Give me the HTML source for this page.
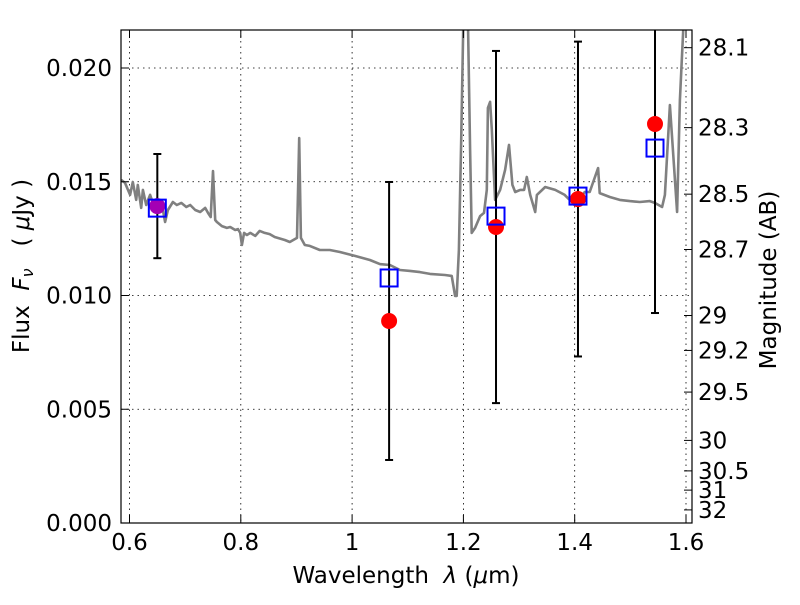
<!DOCTYPE html>
<html><head><meta charset="utf-8"><style>
body{margin:0;background:#fff}
svg{font-family:"DejaVu Sans","Liberation Sans",sans-serif}
</style></head><body>
<svg id="chart" width="800" height="600" viewBox="0 0 800 600" xmlns="http://www.w3.org/2000/svg">
<rect width="800" height="600" fill="#fff"/>
<defs><clipPath id="clip"><rect x="121" y="30" width="571" height="493"/></clipPath></defs>
<g id="grid"></g>
<g id="plot" clip-path="url(#clip)"></g>
<rect x="121" y="30" width="571" height="493" fill="none" stroke="#000" stroke-width="1.2"/>
<g id="axes"></g>
<text x="406" y="583" font-size="23" text-anchor="middle" xml:space="preserve">Wavelength  <tspan font-style="italic">λ</tspan> (<tspan font-style="italic">μ</tspan>m)</text>
<text transform="translate(29,266) rotate(-90)" font-size="23" text-anchor="middle" xml:space="preserve">Flux  <tspan font-style="italic">F</tspan><tspan font-style="italic" font-size="16" dy="4">ν</tspan><tspan dy="-4">   ( </tspan><tspan font-style="italic">μ</tspan>Jy )</text>
<text transform="translate(776,280) rotate(-90)" font-size="23" text-anchor="middle">Magnitude (AB)</text>
</svg>
<script>
const specWl=[0.585,0.592,0.601,0.606,0.612,0.615,0.621,0.624,0.630,0.637,0.642,0.649,0.660,0.664,0.669,0.678,0.685,0.693,0.702,0.709,0.718,0.727,0.736,0.741,0.746,0.750,0.754,0.757,0.766,0.775,0.781,0.790,0.795,0.799,0.802,0.806,0.811,0.817,0.826,0.834,0.843,0.852,0.861,0.879,0.888,0.901,0.905,0.908,0.915,0.924,0.942,0.960,0.978,1.005,1.032,1.050,1.068,1.086,1.104,1.122,1.140,1.167,1.179,1.185,1.188,1.192,1.196,1.200,1.208,1.212,1.215,1.221,1.230,1.237,1.242,1.244,1.248,1.251,1.257,1.266,1.275,1.282,1.288,1.293,1.302,1.309,1.314,1.320,1.329,1.332,1.347,1.365,1.382,1.391,1.406,1.418,1.427,1.442,1.445,1.463,1.481,1.499,1.517,1.535,1.544,1.557,1.562,1.571,1.584,1.589,1.596];
const specFlux=[0.01508,0.01495,0.01442,0.01499,0.01420,0.01486,0.01385,0.01464,0.01398,0.01442,0.01407,0.01424,0.01376,0.01323,0.01376,0.01411,0.01398,0.01407,0.01389,0.01398,0.01376,0.01367,0.01385,0.01363,0.01345,0.01547,0.01332,0.01323,0.01305,0.01297,0.01301,0.01288,0.01292,0.01275,0.01222,0.01275,0.01266,0.01275,0.01262,0.01284,0.01275,0.01270,0.01257,0.01244,0.01235,0.01253,0.01692,0.01253,0.01222,0.01218,0.01200,0.01200,0.01191,0.01174,0.01156,0.01138,0.01134,0.01112,0.01108,0.01103,0.01095,0.01090,0.01086,0.00998,0.00998,0.01200,0.01684,0.02220,0.02220,0.01640,0.01275,0.01297,0.01349,0.01363,0.01464,0.01824,0.01851,0.01730,0.01420,0.01464,0.01552,0.01662,0.01486,0.01455,0.01464,0.01464,0.01521,0.01442,0.01367,0.01442,0.01477,0.01464,0.01442,0.01420,0.01411,0.01455,0.01455,0.01560,0.01450,0.01433,0.01420,0.01415,0.01411,0.01415,0.01407,0.01389,0.01442,0.01837,0.01367,0.01859,0.02220];
const obsWl=[0.65,1.0665,1.2586,1.4059,1.5443];
const obsFlux=[0.01393,0.00888,0.01301,0.01424,0.01754];
const obsErr=[0.00229,0.00611,0.00774,0.00692,0.00831];
const modelFlux=[0.01384,0.01077,0.01349,0.01437,0.01648];
const xTicks=[0.6,0.8,1.0,1.2,1.4,1.6];
const xTickLabels=["0.6","0.8","1","1.2","1.4","1.6"];
const yTicks=[0,0.005,0.010,0.015,0.020];
const yTickLabels=["0.000","0.005","0.010","0.015","0.020"];
const magTicks=[28.1,28.3,28.5,28.7,29,29.2,29.5,30,30.5,31,32];
const magTickLabels=["28.1","28.3","28.5","28.7","29","29.2","29.5","30","30.5","31","32"];

const NS="http://www.w3.org/2000/svg";
const X=w=>129.5+(w-0.6)*556.5;
const Y=f=>523-f*22750;
const magToFlux=m=>Math.pow(10,(23.9-m)/2.5);
function mk(tag,attrs,parent){const e=document.createElementNS(NS,tag);for(const k in attrs)e.setAttribute(k,attrs[k]);parent.appendChild(e);return e;}
const grid=document.getElementById('grid'),plot=document.getElementById('plot'),axes=document.getElementById('axes');

xTicks.forEach((t,i)=>{
  const x=X(t);
  const g=mk('line',{x1:x,x2:x,y1:30,y2:523,stroke:'#000','stroke-width':0.8,'stroke-dasharray':'1.5,4'},grid);
  
  
  mk('line',{x1:x,x2:x,y1:523,y2:515,stroke:'#000'},axes);
  mk('line',{x1:x,x2:x,y1:30,y2:38,stroke:'#000'},axes);
  const tx=mk('text',{x:x,y:550,'font-size':23,'text-anchor':'middle'},axes);
  tx.textContent=xTickLabels[i];
  
  
});
yTicks.forEach((t,i)=>{
  const y=Y(t);
  const g=mk('line',{x1:121,x2:692,y1:y,y2:y,stroke:'#000','stroke-width':0.8,'stroke-dasharray':'1.5,4'},grid);
  
  
  mk('line',{x1:121,x2:129,y1:y,y2:y,stroke:'#000'},axes);
  const tx=mk('text',{x:112,y:y+8,'font-size':23,'text-anchor':'end'},axes);
  tx.textContent=yTickLabels[i];
  
  
});
magTicks.forEach((m,i)=>{
  const y=Y(magToFlux(m));
  mk('line',{x1:692,x2:684,y1:y,y2:y,stroke:'#000'},axes);
  const tx=mk('text',{x:698,y:y+8,'font-size':23},axes);
  tx.textContent=magTickLabels[i];
  
  
});

const pts=specWl.map((w,i)=>X(w).toFixed(1)+','+Y(specFlux[i]).toFixed(1)).join(' ');
const sp=mk('polyline',{points:pts,fill:'none',stroke:'#808080','stroke-width':2.6,'stroke-linejoin':'round'},plot);



obsWl.forEach((w,i)=>{
  const x=X(w);
  const eb=mk('g',{},plot);
  
  
  const y1=Y(obsFlux[i]+obsErr[i]),y2=Y(obsFlux[i]-obsErr[i]);
  mk('line',{x1:x,x2:x,y1:y1,y2:y2,stroke:'#000','stroke-width':2},eb);
  mk('line',{x1:x-4,x2:x+4,y1:y1,y2:y1,stroke:'#000','stroke-width':2},eb);
  mk('line',{x1:x-4,x2:x+4,y1:y2,y2:y2,stroke:'#000','stroke-width':2},eb);
});
obsWl.forEach((w,i)=>{
  const x=X(w);
  const c=mk('circle',{cx:x,cy:Y(obsFlux[i]),r:8,fill:i===0?'#a400b4':'#ff0000'},plot);
  
  
  const s=mk('rect',{x:x-8.5,y:Y(modelFlux[i])-8.5,width:17,height:17,fill:'none',stroke:'#0000ff','stroke-width':2},plot);
  
  
});
</script>
</body></html>
